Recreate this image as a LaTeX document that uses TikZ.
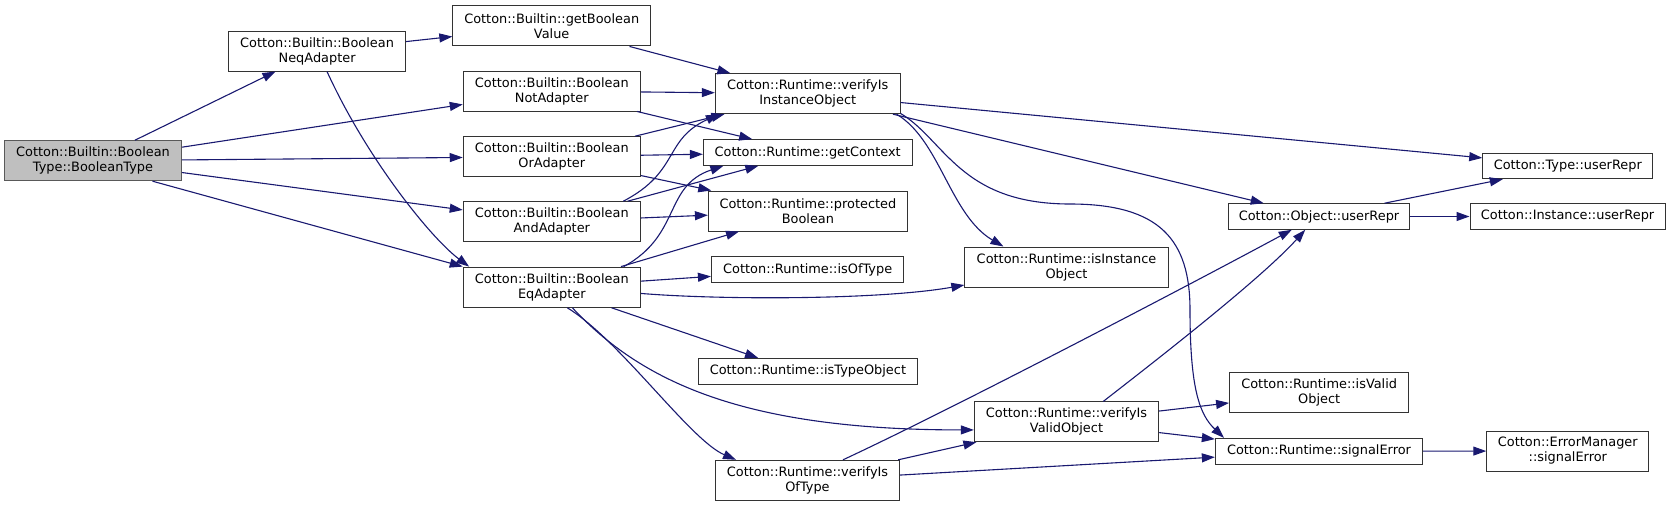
\documentclass[tikz,border=0pt]{standalone}
\usepackage{fontspec}
\setmainfont{DejaVu Sans}
\usetikzlibrary{arrows.meta}
\definecolor{navy}{HTML}{191970}
\definecolor{nodegray}{HTML}{BFBFBF}
\tikzset{
  box/.style={draw=black!80, line width=1pt, fill=white, inner sep=0pt, align=center,
    font=\fontsize{12.9}{15}\selectfont},
  rootbox/.style={box, fill=nodegray, draw=black!65},
  e/.style={draw=navy, line width=1.1pt, -{Triangle[length=13pt,width=9pt]}}
}
\begin{document}
\begin{tikzpicture}[x=1pt,y=-1pt]
\useasboundingbox (0,0) rectangle (1671,507);
% nodes
\node[rootbox, minimum width=176.8, minimum height=40] (bt) at (93,160.7) {Cotton::Builtin::Boolean\\Type::BooleanType};
\node[box, minimum width=176.5, minimum height=39.7] (neq) at (317.1,51.2) {Cotton::Builtin::Boolean\\NeqAdapter};
\node[box, minimum width=197.7, minimum height=40.3] (gbv) at (551.7,25.8) {Cotton::Builtin::getBoolean\\Value};
\node[box, minimum width=177.1, minimum height=40] (nnot) at (551.8,91) {Cotton::Builtin::Boolean\\NotAdapter};
\node[box, minimum width=177.1, minimum height=40] (nor) at (551.8,156.7) {Cotton::Builtin::Boolean\\OrAdapter};
\node[box, minimum width=177.1, minimum height=40] (nand) at (551.8,221.7) {Cotton::Builtin::Boolean\\AndAdapter};
\node[box, minimum width=177.1, minimum height=40.2] (eq) at (551.8,287.2) {Cotton::Builtin::Boolean\\EqAdapter};
\node[box, minimum width=184.8, minimum height=40] (vii) at (807.7,93.7) {Cotton::Runtime::verifyIs\\InstanceObject};
\node[box, minimum width=208.6, minimum height=25.7] (gc) at (807.7,152.5) {Cotton::Runtime::getContext};
\node[box, minimum width=199, minimum height=40] (pb) at (807.9,211) {Cotton::Runtime::protected\\Boolean};
\node[box, minimum width=192.5, minimum height=25.7] (iot) at (807.7,269.8) {Cotton::Runtime::isOfType};
\node[box, minimum width=203.3, minimum height=40] (iio) at (1066.5,267) {Cotton::Runtime::isInstance\\Object};
\node[box, minimum width=218.9, minimum height=25.7] (ito) at (807.9,371.2) {Cotton::Runtime::isTypeObject};
\node[box, minimum width=184.4, minimum height=39.7] (vivo) at (1066.5,421.8) {Cotton::Runtime::verifyIs\\ValidObject};
\node[box, minimum width=184.4, minimum height=40] (vot) at (807.5,480.3) {Cotton::Runtime::verifyIs\\OfType};
\node[box, minimum width=170.1, minimum height=25.4] (tur) at (1567.8,166) {Cotton::Type::userRepr};
\node[box, minimum width=181.7, minimum height=25.6] (our) at (1319,216.5) {Cotton::Object::userRepr};
\node[box, minimum width=195.2, minimum height=25.6] (iur) at (1567.6,216.5) {Cotton::Instance::userRepr};
\node[box, minimum width=179.2, minimum height=40.3] (ivo) at (1319.2,392.5) {Cotton::Runtime::isValid\\Object};
\node[box, minimum width=207.3, minimum height=25.7] (se) at (1319,451.2) {Cotton::Runtime::signalError};
\node[box, minimum width=162.1, minimum height=40] (ems) at (1567.8,451) {Cotton::ErrorManager\\::signalError};
% straight edges
\draw[e] (bt) -- (neq);
\draw[e] (bt) -- (nnot);
\draw[e] (bt) -- (nor);
\draw[e] (bt) -- (nand);
\draw[e] (bt.-19) -- (eq.north west);
\draw[e] (neq) -- (gbv);
\draw[e] (gbv) -- (vii);
\draw[e] (nnot) -- (vii);
\draw[e] (nnot) -- (gc);
\draw[e] (nor) -- (vii);
\draw[e] (nor) -- (gc);
\draw[e] (nor) -- (pb);
\draw[e] (nand) -- (gc);
\draw[e] (nand) -- (pb);
\draw[e] (eq) -- (pb);
\draw[e] (eq) -- (iot);
\draw[e] (eq.-19.6) -- (ito.165);
\draw[e] (vii) -- (tur);
\draw[e] (vii) -- (our);
\draw[e] (our) -- (tur);
\draw[e] (our) -- (iur);
\draw[e] (vivo) -- (ivo);
\draw[e] (vivo) -- (se);
\draw[e] (vot) -- (vivo);
\draw[e] (vot) -- (se);
\draw[e] (se) -- (ems);
% curved edges
\draw[e] (neq.-64) .. controls (366.8,158.6) and (431,238.2) .. (eq.166);
\draw[e] (nand.16) .. controls (680,171.7) and (663.3,139.7) .. (vii.-167);
\draw[e] (eq.16) .. controls (681.7,235) and (663.3,186) .. (gc.-171);
\draw[e] (eq.-4.6) .. controls (720,300) and (880,300) .. (iio.-170);
\draw[e] (eq.-45) .. controls (640,380) and (740,430) .. (vivo.-175);
\draw[e] (eq.-53) .. controls (620,340) and (690,440) .. (vot.164);
\draw[e] (vii.-13) .. controls (940,140) and (950,215) .. (iio.162);
\draw[e] (vii.-12) .. controls (945,140) and (960,204) .. (1070,204)
  .. controls (1160,204) and (1190,240) .. (1190,310)
  .. controls (1190,390) and (1200,415) .. (se.172);
\draw[e] (vot.30) .. controls (950,410) and (1180,290) .. (our.-154);
\draw[e] (vivo.29) .. controls (1150,365) and (1260,280) .. (our.-136);
\end{tikzpicture}
\end{document}
